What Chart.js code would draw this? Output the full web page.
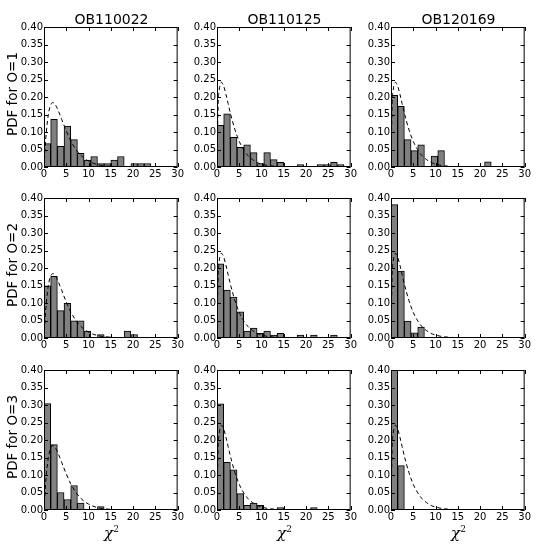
<!DOCTYPE html>
<html>
<head>
<meta charset="utf-8">
<script src="https://cdn.jsdelivr.net/npm/chart.js@4.4.0/dist/chart.umd.min.js"></script>
<style>
  body { margin: 0; background: #fff; width: 554px; height: 554px; position: relative; overflow: hidden; font-family: 'DejaVu Sans', sans-serif; }
  canvas { position: absolute; }
  .title { position: absolute; width: 135px; text-align: center; font-size: 14px; line-height: 16px; white-space: nowrap; }
  .ylabel { position: absolute; font-size: 13.5px; line-height: 16px; white-space: nowrap; transform: translate(-50%, -50%) rotate(-90deg); }
  .xlabel { position: absolute; font-family: 'DejaVu Serif', serif; font-style: italic; font-size: 15px; line-height: 18px; white-space: nowrap; transform: translate(-50%, -50%); }
  .xlabel sup { font-size: 9px; font-style: normal; }
</style>
</head>
<body>
<script>
// histogram bins (chi^2 bin centres, width 1.5)
const binCenters = [0.75, 2.25, 3.75, 5.25, 6.75, 8.25, 9.75, 11.25, 12.75, 14.25,
                    15.75, 17.25, 18.75, 20.25, 21.75, 23.25, 24.75, 26.25, 27.75];

const colTitles = ['OB110022', 'OB110125', 'OB120169'];
const rowLabels = ['PDF for O=1', 'PDF for O=2', 'PDF for O=3'];

// PDF per bin
const ob110022_o1 = [0.067, 0.136, 0.059, 0.117, 0.078, 0.039, 0.020, 0.030, 0.010, 0.010,
                     0.020, 0.030, 0, 0.010, 0.010, 0.010, 0, 0, 0];
const ob110125_o1 = [0.119, 0.152, 0.085, 0.056, 0.063, 0.041, 0.010, 0.041, 0.021, 0.013,
                     0, 0, 0.007, 0, 0, 0.007, 0.007, 0.013, 0.007];
const ob120169_o1 = [0.205, 0.173, 0.078, 0.047, 0.063, 0, 0.031, 0.047, 0, 0,
                     0, 0, 0, 0, 0.015, 0, 0, 0, 0];

const ob110022_o2 = [0.149, 0.176, 0.078, 0.099, 0.049, 0.049, 0.020, 0, 0.010, 0.003,
                     0, 0, 0.020, 0.010, 0, 0, 0, 0, 0];
const ob110125_o2 = [0.212, 0.137, 0.117, 0.075, 0.020, 0.028, 0.013, 0.020, 0.008, 0.013,
                     0, 0, 0.008, 0, 0.008, 0, 0, 0.008, 0];
const ob120169_o2 = [0.381, 0.191, 0.048, 0.015, 0.031, 0, 0, 0, 0, 0,
                     0, 0, 0, 0, 0, 0, 0, 0, 0];

const ob110022_o3 = [0.304, 0.187, 0.050, 0.030, 0.070, 0.020, 0, 0, 0.010, 0,
                     0, 0, 0, 0, 0, 0, 0, 0, 0];
const ob110125_o3 = [0.303, 0.136, 0.115, 0.047, 0.013, 0.020, 0.013, 0, 0, 0.007,
                     0, 0, 0, 0, 0.007, 0, 0, 0, 0];
const ob120169_o3 = [0.460, 0.127, 0, 0, 0, 0, 0, 0, 0, 0,
                     0, 0, 0, 0, 0, 0, 0, 0, 0];

// dashed reference curves
const curveX   = [0, 0.25, 0.5, 1, 1.5, 2, 2.5, 3, 4, 5, 6, 7, 8, 9, 10, 11, 12, 14, 16, 18, 20];
const pdfLeft  = [0, 0.055, 0.097, 0.152, 0.177, 0.184, 0.179, 0.167, 0.135, 0.103, 0.075,
                  0.053, 0.037, 0.025, 0.017, 0.011, 0.007, 0.003, 0.001, 0.0006, 0.0002];
const pdfRight = [0, 0.176, 0.220, 0.242, 0.231, 0.208, 0.181, 0.154, 0.108, 0.073, 0.049,
                  0.032, 0.021, 0.013, 0.0085, 0.0054, 0.0034, 0.0014, 0.0005, 0.0002, 0.0001];

const panels = [
  [ob110022_o1, ob110125_o1, ob120169_o1],
  [ob110022_o2, ob110125_o2, ob120169_o2],
  [ob110022_o3, ob110125_o3, ob120169_o3]
];
const colCurves = [pdfLeft, pdfRight, pdfRight];

// layout of the 3x3 grid (plot area corners)
const colLeft = [44, 217, 391];
const rowTop = [27, 198, 370];
const plotW = 135, plotH = 140;
const axisW = 44, axisH = 18, padTop = 8, padRight = 6;

Chart.defaults.font.family = "'DejaVu Sans', sans-serif";
Chart.defaults.font.size = 10;
Chart.defaults.color = '#000';

// box + inward ticks on all four sides, like the matplotlib axes
const framePlugin = {
  id: 'frame',
  afterDraw(chart) {
    const { ctx, chartArea: a, scales: { x, y } } = chart;
    ctx.save();
    ctx.strokeStyle = '#000';
    ctx.lineWidth = 1;
    ctx.beginPath();
    x.ticks.forEach(t => {
      const px = Math.round(x.getPixelForValue(t.value)) + 0.5;
      ctx.moveTo(px, a.bottom); ctx.lineTo(px, a.bottom - 4);
      ctx.moveTo(px, a.top); ctx.lineTo(px, a.top + 4);
    });
    y.ticks.forEach(t => {
      const py = Math.round(y.getPixelForValue(t.value)) + 0.5;
      ctx.moveTo(a.left, py); ctx.lineTo(a.left + 4, py);
      ctx.moveTo(a.right, py); ctx.lineTo(a.right - 4, py);
    });
    ctx.stroke();
    ctx.strokeRect(a.left + 0.5, a.top + 0.5, a.right - a.left - 1, a.bottom - a.top - 1);
    ctx.restore();
  }
};

function addText(cls, html, left, top) {
  const d = document.createElement('div');
  d.className = cls;
  d.innerHTML = html;
  d.style.left = left + 'px';
  d.style.top = top + 'px';
  document.body.appendChild(d);
}

for (let r = 0; r < 3; r++) {
  for (let c = 0; c < 3; c++) {
    const canvas = document.createElement('canvas');
    canvas.width = axisW + plotW + padRight;
    canvas.height = padTop + plotH + axisH;
    canvas.style.left = (colLeft[c] - axisW) + 'px';
    canvas.style.top = (rowTop[r] - padTop) + 'px';
    document.body.appendChild(canvas);

    const values = panels[r][c];
    const curve = colCurves[c];

    new Chart(canvas, {
      type: 'bar',
      data: {
        datasets: [{
          type: 'line',
          data: curveX.map((x, i) => ({ x: x, y: curve[i] })),
          borderColor: '#000',
          borderWidth: 1,
          borderDash: [4, 3],
          pointRadius: 0,
          cubicInterpolationMode: 'monotone',
          fill: false,
          order: 0
        }, {
          data: binCenters.map((x, i) => ({ x: x, y: values[i] })),
          backgroundColor: '#808080',
          borderColor: '#000',
          borderWidth: 1,
          borderSkipped: false,
          barPercentage: 1,
          categoryPercentage: 1,
          order: 1
        }]
      },
      options: {
        responsive: false,
        animation: false,
        events: [],
        layout: { padding: { top: padTop, right: padRight, left: 0, bottom: 0 } },
        plugins: { legend: { display: false }, tooltip: { enabled: false } },
        scales: {
          x: {
            type: 'linear',
            min: 0,
            max: 30,
            offset: false,
            grid: { display: false, drawTicks: false },
            border: { display: false },
            ticks: { stepSize: 5, padding: 1, maxRotation: 0, autoSkip: false },
            afterFit: s => { s.height = axisH; }
          },
          y: {
            min: 0,
            max: 0.4,
            grid: { display: false, drawTicks: false },
            border: { display: false },
            ticks: { stepSize: 0.05, padding: 1, callback: v => v.toFixed(2) },
            afterFit: s => { s.width = axisW; }
          }
        }
      },
      plugins: [framePlugin]
    });
  }
}

colTitles.forEach((t, c) => addText('title', t, colLeft[c], 11));
rowLabels.forEach((t, r) => addText('ylabel', t, 12, rowTop[r] + plotH / 2 - 3));
for (let c = 0; c < 3; c++) {
  addText('xlabel', '&chi;<sup>2</sup>', colLeft[c] + plotW / 2, 531);
}
</script>
</body>
</html>
